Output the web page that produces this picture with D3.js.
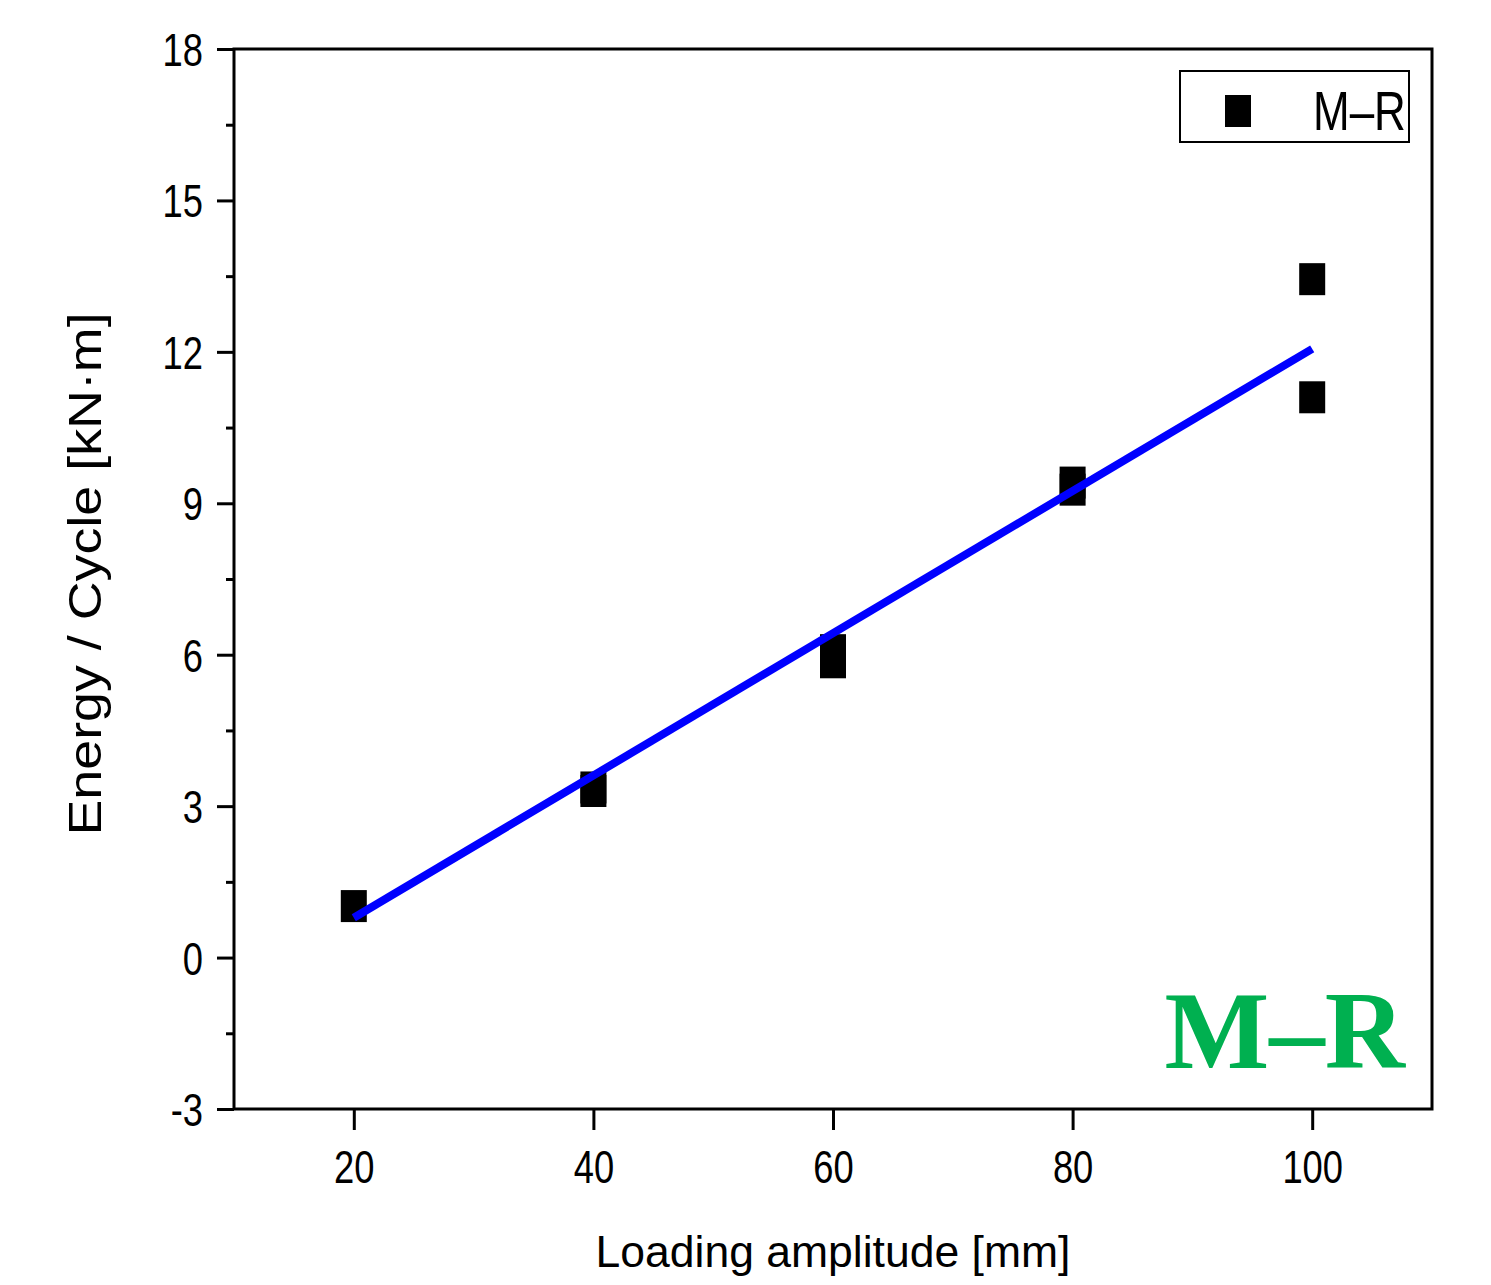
<!DOCTYPE html>
<html>
<head>
<meta charset="utf-8">
<script src="https://cdn.jsdelivr.net/npm/d3@7"></script>
<style>
  body { margin: 0; background: #fff; }
  svg text { font-family: "Liberation Sans", Arial, sans-serif; fill: #000; }
</style>
</head>
<body>
<div id="chart"></div>
<script>
// data
const amplitude = [20, 40, 40, 60, 60, 80, 80, 100, 100];
const energy = [1.02, 3.37, 3.30, 6.09, 5.85, 9.41, 9.27, 13.44, 11.10];
const fitX = [20, 100];
const fitY = [0.79, 12.06];
const xTicks = [20, 40, 60, 80, 100];
const yTicks = [-3, 0, 3, 6, 9, 12, 15, 18];
const yMinorTicks = [-1.5, 1.5, 4.5, 7.5, 10.5, 13.5, 16.5];
const seriesName = "M\u2013R";

const W = 1491, H = 1285;
const plot = {left: 234, right: 1432, top: 49, bottom: 1109};

const svg = d3.select("#chart")
    .append("svg")
    .attr("width", W)
    .attr("height", H);

svg.append("rect")
    .attr("width", W)
    .attr("height", H)
    .attr("fill", "white");

const x = d3.scaleLinear().domain([10, 110]).range([plot.left, plot.right]);
const y = d3.scaleLinear().domain([-3, 18]).range([plot.bottom, plot.top]);

// frame
svg.append("rect")
    .attr("x", plot.left)
    .attr("y", plot.top)
    .attr("width", plot.right - plot.left)
    .attr("height", plot.bottom - plot.top)
    .attr("fill", "none")
    .attr("stroke", "#000")
    .attr("stroke-width", 3);

// y axis, major ticks
const yAxis = svg.append("g")
    .attr("transform", `translate(${plot.left},0)`)
    .call(d3.axisLeft(y).tickValues(yTicks).tickSize(17).tickSizeOuter(0).tickFormat(d3.format("d")));
yAxis.select(".domain").remove();
yAxis.selectAll("line").attr("stroke", "#000").attr("stroke-width", 3);
yAxis.selectAll("text")
    .attr("font-size", 46)
    .attr("x", null)
    .attr("dy", null)
    .attr("text-anchor", "end")
    .attr("transform", "translate(-31,16.5) scale(0.79,1)")
    .text(d => d < 0 ? "-" + Math.abs(d) : d);

// y axis, minor ticks
const yMinor = svg.append("g")
    .attr("transform", `translate(${plot.left},0)`)
    .call(d3.axisLeft(y).tickValues(yMinorTicks).tickSize(8).tickSizeOuter(0).tickFormat(""));
yMinor.select(".domain").remove();
yMinor.selectAll("line").attr("stroke", "#000").attr("stroke-width", 3);

// x axis
const xAxis = svg.append("g")
    .attr("transform", `translate(0,${plot.bottom})`)
    .call(d3.axisBottom(x).tickValues(xTicks).tickSize(21).tickSizeOuter(0).tickFormat(d3.format("d")));
xAxis.select(".domain").remove();
xAxis.selectAll("line").attr("stroke", "#000").attr("stroke-width", 3);
xAxis.selectAll("text")
    .attr("font-size", 46)
    .attr("y", null)
    .attr("dy", null)
    .attr("text-anchor", "middle")
    .attr("transform", "translate(0,74) scale(0.79,1)");

// axis titles
svg.append("text")
    .attr("x", (plot.left + plot.right) / 2)
    .attr("y", 1267)
    .attr("text-anchor", "middle")
    .attr("font-size", 44.5)
    .text("Loading amplitude [mm]");

svg.append("text")
    .attr("transform", `translate(101,${(plot.top + plot.bottom) / 2 - 5}) rotate(-90) scale(1.17,1)`)
    .attr("text-anchor", "middle")
    .attr("font-size", 46)
    .text("Energy / Cycle [kN\u00b7m]");

// data markers
const mW = 26, mH = 32;
svg.append("g")
    .selectAll("rect")
    .data(amplitude.map((a, i) => ({a, e: energy[i]})))
    .join("rect")
    .attr("x", d => x(d.a) - mW / 2)
    .attr("y", d => y(d.e) - mH / 2)
    .attr("width", mW)
    .attr("height", mH)
    .attr("fill", "#000");

// linear fit
svg.append("path")
    .datum(fitX.map((v, i) => [v, fitY[i]]))
    .attr("d", d3.line().x(d => x(d[0])).y(d => y(d[1])))
    .attr("fill", "none")
    .attr("stroke", "#0000ff")
    .attr("stroke-width", 8);

// legend
const legend = svg.append("g");
legend.append("rect")
    .attr("x", 1180)
    .attr("y", 71)
    .attr("width", 229)
    .attr("height", 71)
    .attr("fill", "white")
    .attr("stroke", "#000")
    .attr("stroke-width", 2);
legend.append("rect")
    .attr("x", 1238 - mW / 2)
    .attr("y", 111 - mH / 2)
    .attr("width", mW)
    .attr("height", mH)
    .attr("fill", "#000");
legend.append("text")
    .attr("transform", "translate(1313,130) scale(1,1.27)")
    .attr("font-size", 44)
    .text(seriesName);

// panel label
svg.append("text")
    .attr("x", 1405)
    .attr("y", 1068)
    .attr("text-anchor", "end")
    .attr("font-size", 111)
    .attr("font-weight", "bold")
    .style("font-family", "'Liberation Serif', 'Times New Roman', serif")
    .style("fill", "#00b050")
    .text(seriesName);
</script>
</body>
</html>
